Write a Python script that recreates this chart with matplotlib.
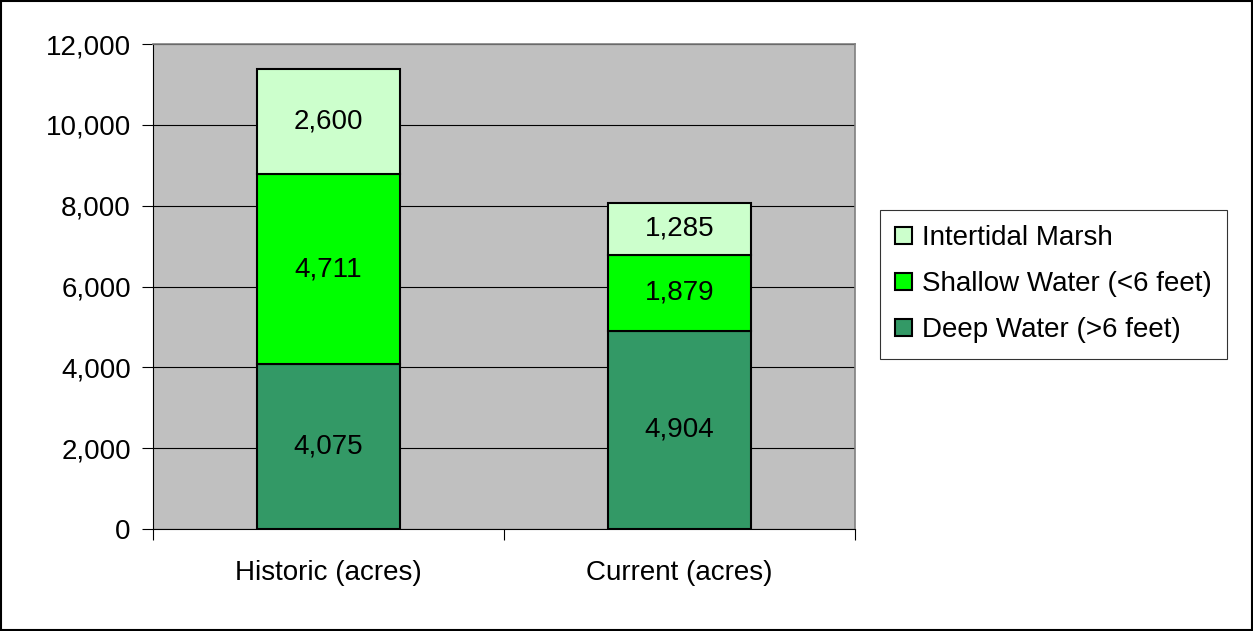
import matplotlib.pyplot as plt
from matplotlib.patches import Rectangle
import numpy as np

categories = ["Historic (acres)", "Current (acres)"]
deep = [4075, 4904]
shallow = [4711, 1879]
marsh = [2600, 1285]
series_names = ["Deep Water (>6 feet)", "Shallow Water (<6 feet)", "Intertidal Marsh"]
colors = ["#339966", "#00FF00", "#CCFFCC"]

plt.rcParams['font.family'] = ['Liberation Sans', 'DejaVu Sans']
plt.rcParams['font.size'] = 20

fig = plt.figure(figsize=(12.53, 6.31), dpi=100)
ax = fig.add_axes([153 / 1253, 1 - 529 / 631, 702 / 1253, 485 / 631])
ax.set_facecolor("#C0C0C0")

x = np.arange(len(categories))
bottom = np.zeros(len(categories))
handles = []
for vals, name, col in zip([deep, shallow, marsh], series_names, colors):
    bars = ax.bar(x, vals, width=0.405, bottom=bottom, color=col,
                  edgecolor="black", linewidth=1.5, label=name, zorder=3)
    for xi, b, v in zip(x, bottom, vals):
        ax.text(xi, b + v / 2, f"{v:,}", ha="center", va="center",
                fontsize=20, zorder=4)
    bottom += np.array(vals)
    handles.append(bars)

ax.set_xlim(-0.5, 1.5)
ax.set_ylim(0, 12000)
ax.set_yticks(np.arange(0, 12001, 2000))
ax.set_yticklabels([f"{v:,}" for v in range(0, 12001, 2000)])
ax.yaxis.grid(True, color="black", linewidth=0.8, zorder=1)
ax.set_axisbelow(True)

ax.set_xticks([-0.5, 0.5, 1.5])
ax.set_xticklabels([])
ax.set_xticks(x, minor=True)
ax.set_xticklabels(categories, minor=True)
ax.tick_params(axis="x", which="minor", length=0, pad=22)
ax.tick_params(axis="x", which="major", length=8, color="black", width=0.8)
ax.tick_params(axis="y", length=8, width=0.8, pad=8)

for s in ["top", "right"]:
    ax.spines[s].set_color("#808080")
    ax.spines[s].set_linewidth(1.2)
for s in ["left", "bottom"]:
    ax.spines[s].set_color("black")
    ax.spines[s].set_linewidth(0.8)

leg = fig.legend(handles[::-1], series_names[::-1], loc="upper left",
                 bbox_to_anchor=(880 / 1253, 1 - 210 / 631),
                 frameon=True, fancybox=False, edgecolor="black",
                 handlelength=0.6, handleheight=0.6, handletextpad=0.35,
                 labelspacing=0.72, borderpad=0.55, borderaxespad=0,
                 fontsize=20)
leg.get_frame().set_linewidth(0.8)

fig.patches.append(Rectangle((0.001, 0.001), 0.998, 0.997, transform=fig.transFigure,
                             fill=False, edgecolor="black", linewidth=1.5))

fig.savefig("out.png", dpi=100)
